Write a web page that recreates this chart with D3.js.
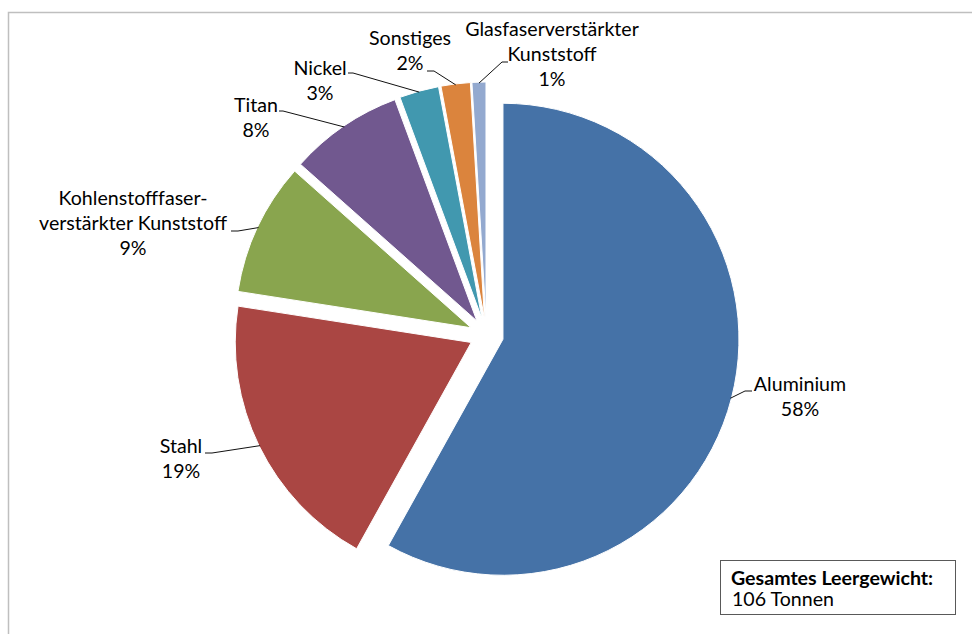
<!DOCTYPE html>
<html>
<head>
<meta charset="utf-8">
<script src="https://cdn.jsdelivr.net/npm/d3@7/dist/d3.min.js"></script>
<style>
  html, body { margin: 0; padding: 0; background: #fff; }
  svg { display: block; }
  text { font-family: Lato, "Open Sans", sans-serif; fill: #000; }
</style>
</head>
<body>
<svg id="chart" width="972" height="634"></svg>
<script>
// ---- data ----
const categories = ["Aluminium", "Stahl", "Kohlenstofffaser-verstärkter Kunststoff", "Titan", "Nickel", "Sonstiges", "Glasfaserverstärkter Kunststoff"];
const labelLines = [
  ["Aluminium"],
  ["Stahl"],
  ["Kohlenstofffaser-", "verstärkter Kunststoff"],
  ["Titan"],
  ["Nickel"],
  ["Sonstiges"],
  ["Glasfaserverstärkter", "Kunststoff"]
];
// shares in percent
const values = [58.1, 19.4, 9.1, 7.8, 2.7, 2.0, 0.95];
const colors = ["#4572A7", "#AA4643", "#89A54E", "#71588F", "#4198AF", "#DB843D", "#93A9CF"];
const infoTitle = "Gesamtes Leergewicht:";
const infoText = "106 Tonnen";

// ---- layout (label placement, not data) ----
const labelLayout = [
  { cx: 800, by: 391, leader: [[752, 391], [745, 391]] },
  { cx: 181, by: 453, leader: [[205, 453], [212, 453]] },
  { cx: 133, by: 205, leader: [[231, 231], [238, 231]] },
  { cx: 256, by: 112, leader: [[279, 111], [283, 111]] },
  { cx: 320, by: 75,  leader: [[348, 73], [353, 73]] },
  { cx: 410, by: 45,  leader: [[427, 71], [434, 71]] },
  { cx: 552, by: 36,  leader: [[508, 62], [502, 62]] }
];
const lineH = 25;
const fontSize = 19.6;

const svg = d3.select("#chart");

svg.append("rect")
  .attr("x", 8.5).attr("y", 12.5)
  .attr("width", 1000).attr("height", 700)
  .attr("fill", "none").attr("stroke", "#bfbfbf").attr("stroke-width", 1.5);

const C = [486.5, 335];
const R = 236;
const explode = 17;

const total = d3.sum(values);
const pie = d3.pie().sort(null).value(d => d).startAngle(0).endAngle(2 * Math.PI);
const arcs = pie(values);
const arc = d3.arc().innerRadius(0).outerRadius(R);

const g = svg.append("g").attr("transform", `translate(${C[0]},${C[1]})`);

function dir(a) { return [Math.sin(a), -Math.cos(a)]; }

g.selectAll("path.slice")
  .data(arcs)
  .join("path")
  .attr("class", "slice")
  .attr("d", arc)
  .attr("fill", (d, i) => colors[i])
  .attr("stroke", "#fff")
  .attr("stroke-width", 1)
  .attr("transform", d => {
    const m = (d.startAngle + d.endAngle) / 2;
    const [dx, dy] = dir(m);
    return `translate(${dx * explode},${dy * explode})`;
  });

const lg = svg.append("g");
arcs.forEach((d, i) => {
  const m = (d.startAngle + d.endAngle) / 2;
  const [dx, dy] = dir(m);
  const px = C[0] + dx * (explode + R - 1);
  const py = C[1] + dy * (explode + R - 1);
  const L = labelLayout[i];
  const pts = [L.leader[0], L.leader[1], [px, py]];
  lg.append("path")
    .attr("d", d3.line()(pts))
    .attr("fill", "none")
    .attr("stroke", "#111")
    .attr("stroke-width", 1);
});

const tg = svg.append("g");
arcs.forEach((d, i) => {
  const L = labelLayout[i];
  const pct = Math.round(values[i] / total * 100) + "%";
  const lines = labelLines[i].concat([pct]);
  const t = tg.append("text")
    .attr("text-anchor", "middle")
    .attr("font-size", fontSize);
  lines.forEach((s, k) => {
    t.append("tspan").attr("x", L.cx).attr("y", L.by + k * lineH).text(s);
  });
});

const box = svg.append("g");
box.append("rect")
  .attr("x", 720.5).attr("y", 560.5).attr("width", 235).attr("height", 54)
  .attr("fill", "#fff").attr("stroke", "#595959").attr("stroke-width", 1);
box.append("text").attr("x", 731).attr("y", 585)
  .attr("font-size", fontSize).attr("font-weight", "bold").text(infoTitle);
box.append("text").attr("x", 732).attr("y", 606)
  .attr("font-size", fontSize).text(infoText);
</script>
</body>
</html>
